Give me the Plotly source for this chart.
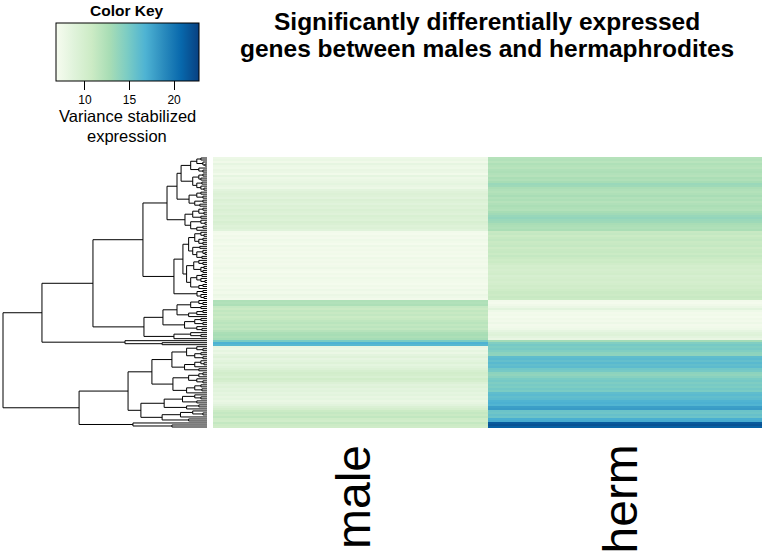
import plotly.graph_objects as go

# ---------------- data ----------------
samples = ["male", "herm"]

male = [
    7.6, 7.9, 7.4, 8.2, 7.7, 7.5, 8.0, 7.8, 7.3, 8.3, 7.6, 7.9, 8.1,
    8.4, 8.0, 7.7, 8.6, 8.9, 9.2, 9.0, 8.7, 9.4, 9.1, 8.8, 9.3,
    9.0, 9.5, 9.2, 8.9, 9.6, 9.3, 9.1, 9.7, 9.4, 9.0, 9.2, 8.8,
    7.2, 7.0, 7.4, 7.1, 7.5, 7.3, 7.0, 7.6, 7.2, 7.4, 7.1, 7.3, 7.0, 7.5,
    7.2, 7.4, 7.1, 7.3, 7.6, 7.2, 7.0, 7.4, 7.1, 7.5, 7.3, 7.2, 7.0, 7.4, 7.1,
    7.6, 7.3, 7.8, 7.5, 7.2,
    12.4, 12.2, 12.5, 11.2, 10.9, 11.4, 11.0, 11.3, 10.8, 11.1,
    11.5, 11.8, 11.4, 11.7, 11.3, 12.0, 12.6, 12.8, 12.5, 12.9,
    14.8, 16.8, 16.4,
    8.0, 7.6, 8.3, 7.8, 8.5, 8.9, 8.2, 8.6, 9.0, 8.4, 8.8, 9.2, 9.8,
    10.2, 10.0, 9.6, 10.3, 9.9, 9.2, 8.7, 9.0, 8.5, 8.8, 8.3,
    8.6, 8.1, 8.4, 7.9, 8.2, 8.7, 9.4, 9.9, 10.8, 11.2, 10.9, 11.4, 10.6, 10.3,
    11.2, 10.7, 10.4,
]

herm = [
    12.0, 12.2, 11.8, 12.4, 12.1, 11.9, 12.3, 12.5, 12.2, 12.0, 12.6, 12.3, 12.8,
    13.4, 13.2, 12.6, 12.3, 12.1, 12.4, 12.7, 12.2, 12.5, 12.0, 12.3, 12.6,
    12.4, 12.2, 12.8, 13.1, 13.5, 13.7, 13.4, 13.2, 12.7, 12.5, 12.3, 12.6,
    11.0, 11.2, 10.8, 11.1, 11.3, 10.9, 11.0, 11.2, 10.7, 11.0, 11.1, 10.8, 11.2, 10.9,
    10.6, 10.8, 10.4, 10.0, 10.2, 9.9, 10.1, 10.3, 9.8, 10.0, 10.2, 9.9, 10.1, 10.4, 10.2,
    10.6, 10.9, 10.7, 11.0, 10.8,
    7.2, 7.0, 7.4, 7.8, 8.6, 7.5, 7.1, 7.3, 7.0, 7.4,
    7.2, 7.6, 7.1, 7.3, 7.5, 8.2, 8.8, 9.0, 8.5, 8.0,
    13.0, 14.5, 15.0,
    14.7, 14.9, 14.5, 14.0, 13.9, 16.0, 16.2, 15.8, 16.3, 15.9, 16.1, 15.2, 15.0,
    14.0, 13.8, 14.2, 14.8, 15.0, 14.6, 14.9, 14.7, 15.1, 14.8, 16.0,
    16.2, 15.9, 16.1, 16.7, 16.9, 16.6, 17.8, 18.0, 15.5, 15.3, 15.7, 15.4, 17.0, 17.2,
    21.5, 21.9, 21.2,
]

# row dendrogram: node = [height, left, right]; leaf = 0 (leaves in top-to-bottom order)
A1 = [19.6,
      [14.7,
       [12.7,
        [8, [5, [3, 0, 0], [2, 0, [1, 0, 0]]], [4, 0, [2, 0, 0]]],
        [7, [4, [2, 0, 0], [3, 0, 0]], [5, [2.5, 0, 0], [3, 0, [1.5, 0, 0]]]]],
       [8.8, [5, [3, 0, 0], [2, 0, 0]], [6, [2, 0, 0], [3.5, 0, 0]]]],
      [10.8,
       [7, [4, [2, 0, 0], [1.5, 0, 0]], [3, 0, 0]],
       [8, [3, 0, [1, 0, 0]], [5, [2, 0, 0], 0]]]]
A2 = [16.2,
      [11.8,
       [9, [6, [3, 0, [1.5, 0, 0]], [4, [2, 0, 0], [2, 0, 0]]],
        [7, [3.5, 0, 0], [5, [2, 0, [1, 0, 0]], [2.5, 0, 0]]]],
       [10, [6.5, [4, 0, [2, 0, 0]], [3, [1.5, 0, 0], [2, 0, 0]]],
        [8, [5, [2.5, 0, 0], [3, 0, [1, 0, 0]]], [4, [2, 0, 0], 0]]]],
      [4.9, [2, 0, 0], [3, 0, [1.5, 0, 0]]]]
BL = [30.9,
      [21.6,
       [14.7, [8, [4, 0, [2, 0, 0]], [3, 0, 0]], [9, [5, [2, 0, 0], 0], 0]],
       [11, [6, [3, 0, 0], [2, 0, 0]], [5, 0, [2.5, 0, 0]]]],
      [16.2, [8, 0, [3, 0, 0]], 0]]
BLUE = [40.2, 0, [22, 0, 0]]
DMAIN = [38.7,
         [27,
          [17.2, [10, [5, 0, [2, 0, 0]], [6, [3, 0, 0], [2, 0, 0]]],
           [11, [6, [3, 0, [1.5, 0, 0]], 0], [4, 0, 0]]],
          [16.7, [9, [4, [2, 0, 0], 0], [5, 0, [2, 0, 0]]],
           [10, [6, [3, 0, 0], [2.5, 0, 0]], 0]]],
         [32.4,
          [21, [12, [6, 0, [3, 0, 0]], [5, 0, 0]], [10, [4, 0, 0], 0]],
          [22, [13, [7, 0, [2, 0, 0]], 0], [9, 0, 0]]]]
DBOTTOM = [36.3, 0, [17.2, 0, 0]]
tree = [100, [80.9, [55.9, [31.4, A1, A2], BL], BLUE], [62.7, DMAIN, DBOTTOM]]

key_ticks = [10, 15, 20]
zmin, zmax = 6.75, 22.8
gnbu = ["#F7FCF0", "#E0F3DB", "#CCEBC5", "#A8DDB5", "#7BCCC4",
        "#4EB3D3", "#2B8CBE", "#0868AC", "#084081"]

# ---------------- layout helpers ----------------
W, H = 765, 556
N = len(male)


def px(x):
    return x / W


def py(y):
    return 1 - y / H


seg_x, seg_y = [], []
counter = [0]


def walk(node):
    if node == 0:
        p = counter[0]
        counter[0] += 1
        return p, 0.0
    h, left, right = node
    pl, hl = walk(left)
    pr, hr = walk(right)
    seg_x.extend([hl, h, h, hr, None])
    seg_y.extend([pl, pl, pr, pr, None])
    return (pl + pr) / 2, h


walk(tree)

fig = go.Figure()

colorscale = [[i / (len(gnbu) - 1), c] for i, c in enumerate(gnbu)]
z = [[m, h] for m, h in zip(male, herm)]

fig.add_trace(go.Heatmap(
    z=z, x=samples, y=list(range(N)),
    colorscale=colorscale, zmin=zmin, zmax=zmax,
    xaxis="x", yaxis="y",
    colorbar=dict(
        orientation="h",
        x=px(56), xanchor="left",
        y=py(23), yanchor="top",
        len=143, lenmode="pixels",
        thickness=58, thicknessmode="pixels",
        xpad=0, ypad=0,
        outlinewidth=1, outlinecolor="black",
        ticks="outside", ticklen=9, tickwidth=1, tickcolor="black",
        tickvals=key_ticks,
        tickfont=dict(family="Liberation Sans, Arial", size=12, color="black"),
    ),
    hoverinfo="skip",
))

fig.add_trace(go.Scatter(
    x=seg_x, y=seg_y, mode="lines",
    line=dict(color="black", width=1),
    xaxis="x2", yaxis="y2", showlegend=False, hoverinfo="skip",
))

yr = [N - 0.5, -0.5]
hidden = dict(showticklabels=False, showgrid=False, zeroline=False, ticks="", showline=False)

fig.update_layout(
    width=W, height=H,
    margin=dict(l=0, r=0, t=0, b=0, autoexpand=False),
    paper_bgcolor="white", plot_bgcolor="white",
    showlegend=False,
    xaxis=dict(domain=[px(213), px(762)], **hidden),
    yaxis=dict(domain=[py(428), py(157)], range=yr, **hidden),
    xaxis2=dict(domain=[0, px(208)], range=[100 + 3 / 2.04, -1 / 2.04], anchor="y2", **hidden),
    yaxis2=dict(domain=[py(428), py(157)], range=yr, anchor="x2", **hidden),
    font=dict(family="Liberation Sans, Arial", color="black"),
)

ann = []
ann.append(dict(text="<b>Significantly differentially expressed</b>", x=px(487), y=py(22),
                font=dict(size=24.5)))
ann.append(dict(text="<b>genes between males and hermaphrodites</b>", x=px(487), y=py(48),
                font=dict(size=24.5)))
ann.append(dict(text="<b>Color Key</b>", x=px(127), y=py(10), font=dict(size=15.5)))
ann.append(dict(text="Variance stabilized", x=px(127), y=py(116), font=dict(size=16.5)))
ann.append(dict(text="expression", x=px(127), y=py(136), font=dict(size=16.5)))
col_x = {"male": px(353), "herm": px(620)}
for s in samples:
    ann.append(dict(text=s, x=col_x[s], y=py(443), yanchor="top", textangle=-90,
                    font=dict(size=48)))
for a in ann:
    a.setdefault("xref", "paper")
    a.setdefault("yref", "paper")
    a.setdefault("showarrow", False)
    a.setdefault("yanchor", "middle")
    a.setdefault("xanchor", "center")
fig.update_layout(annotations=ann)

fig.write_html("out.html",
               config={"displayModeBar": False, "staticPlot": True},
               post_script="document.body.style.margin='0px';"
                           "document.body.style.overflow='hidden';")
